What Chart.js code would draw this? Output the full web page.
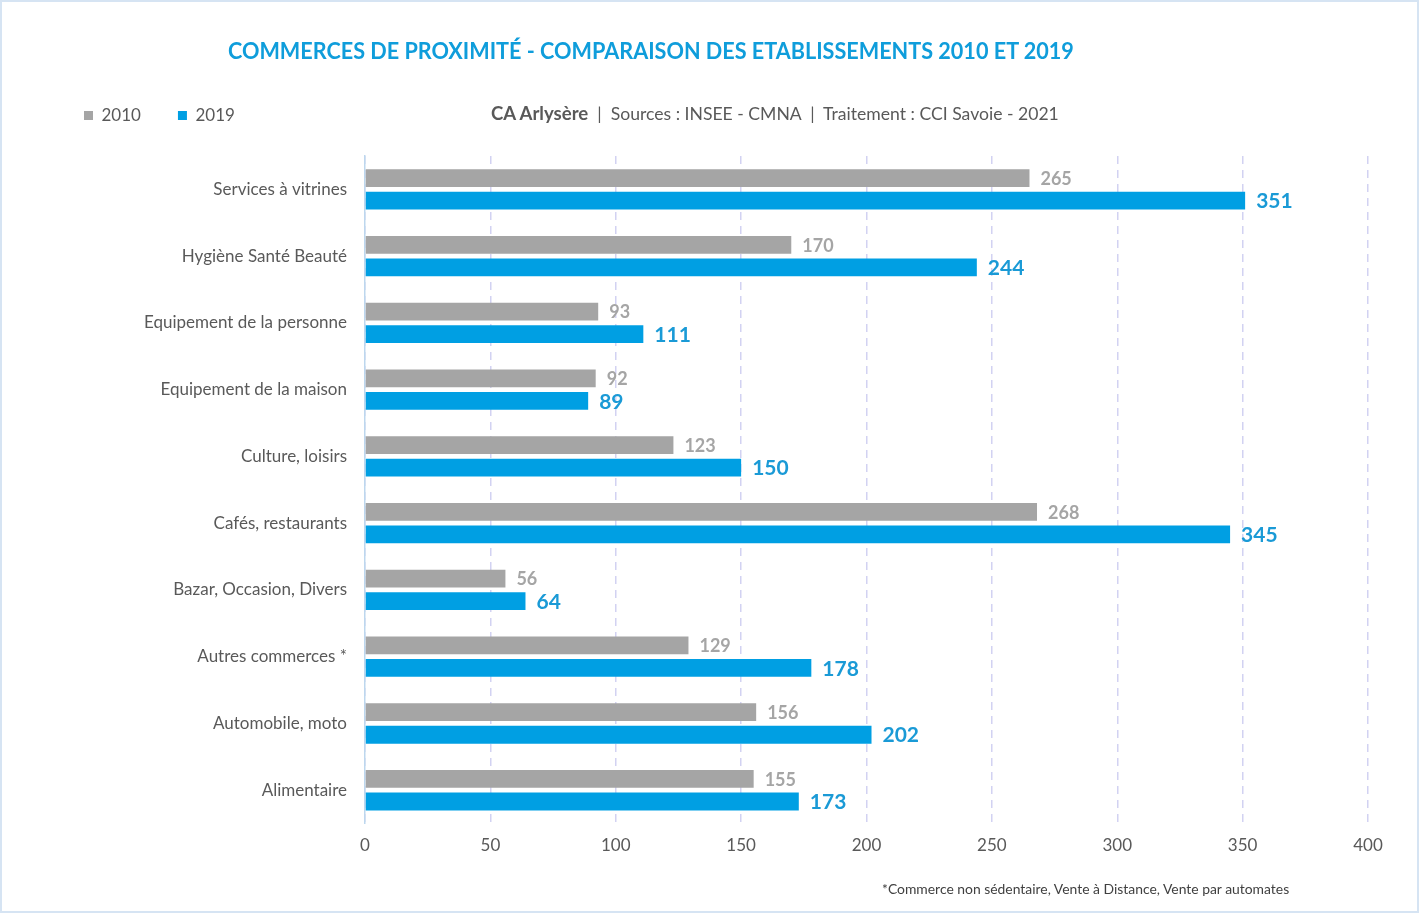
<!DOCTYPE html>
<html>
<head>
<meta charset="utf-8">
<script src="https://cdn.jsdelivr.net/npm/chart.js@4"></script>
<style>
  body { margin: 0; background: #fff; font-family: Lato, sans-serif; }
  #wrap { position: relative; width: 1419px; height: 913px; overflow: hidden; }
  #wrap canvas { position: absolute; left: 0; top: 0; }
  #frame { position: absolute; left: 0; top: 0; width: 1419px; height: 913px; box-sizing: border-box;
           border: 2px solid #d6e4f3; pointer-events: none; }
  .txt { position: absolute; white-space: nowrap; color: #595959; }
  #title { left: 228px; top: 36px; font-size: 23px; font-weight: bold; color: #0f9ddb;
           transform: scaleX(0.94); transform-origin: left center; }
  #sub { left: 491px; top: 102px; font-size: 17.6px; }
  #sub b { font-size: 18.6px; }
  #note { left: 882px; top: 880px; font-size: 13.9px; color: #404040; }
</style>
</head>
<body>
<div id="wrap">
  <canvas id="chart" width="1419" height="913"></canvas>
  <div class="txt" id="title">COMMERCES DE PROXIMITÉ - COMPARAISON DES ETABLISSEMENTS 2010 ET 2019</div>
  <div class="txt" id="sub"><b>CA Arlysère</b>&nbsp;&nbsp;|&nbsp;&nbsp;Sources : INSEE - CMNA&nbsp;&nbsp;|&nbsp;&nbsp;Traitement : CCI Savoie - 2021</div>
  <div class="txt" id="note">*Commerce non sédentaire, Vente à Distance, Vente par automates</div>
  <div id="frame"></div>
</div>
<script>
const categories = [
  "Services à vitrines",
  "Hygiène Santé Beauté",
  "Equipement de la personne",
  "Equipement de la maison",
  "Culture, loisirs",
  "Cafés, restaurants",
  "Bazar, Occasion, Divers",
  "Autres commerces *",
  "Automobile, moto",
  "Alimentaire",
];
const values2010 = [265, 170, 93, 92, 123, 268, 56, 129, 156, 155];
const values2019 = [351, 244, 111, 89, 150, 345, 64, 178, 202, 173];
const xTicks = [0, 50, 100, 150, 200, 250, 300, 350, 400];

const grey = "#a5a5a5";
const blue = "#009fe3";

// value labels at the end of each bar
const barLabels = {
  id: "barLabels",
  afterDatasetsDraw(chart) {
    const ctx = chart.ctx;
    chart.data.datasets.forEach((ds, i) => {
      const meta = chart.getDatasetMeta(i);
      ctx.save();
      ctx.font = ds.labelFont;
      ctx.fillStyle = ds.labelColor;
      ctx.textAlign = "left";
      ctx.textBaseline = "middle";
      meta.data.forEach((bar, j) => {
        ctx.fillText(ds.data[j], bar.x + 11, bar.y + 1);
      });
      ctx.restore();
    });
  },
};

// push the plot area down below the legend line
const legendSpace = {
  id: "legendSpace",
  beforeInit(chart) {
    const fit = chart.legend.fit;
    chart.legend.fit = function () {
      fit.bind(chart.legend)();
      this.height += 22;
    };
  },
};

new Chart(document.getElementById("chart"), {
  type: "bar",
  data: {
    labels: categories,
    datasets: [
      {
        label: "2010",
        data: values2010,
        backgroundColor: grey,
        categoryPercentage: 0.675,
        barPercentage: 0.79,
        labelFont: "bold 18px Lato",
        labelColor: grey,
      },
      {
        label: "2019",
        data: values2019,
        backgroundColor: blue,
        categoryPercentage: 0.675,
        barPercentage: 0.79,
        labelFont: "bold 21px Lato",
        labelColor: "#1a9ad6",
      },
    ],
  },
  options: {
    indexAxis: "y",
    responsive: false,
    animation: false,
    layout: { padding: { left: 47, right: 51, top: 70, bottom: 45 } },
    plugins: {
      title: { display: false },
      tooltip: { enabled: false },
      legend: {
        position: "top",
        align: "start",
        labels: {
          boxWidth: 9,
          boxHeight: 9,
          padding: 37,
          color: "#595959",
          font: { family: "Lato", size: 17 },
        },
      },
    },
    scales: {
      x: {
        min: 0,
        max: 400,
        afterBuildTicks(scale) {
          scale.ticks = xTicks.map((v) => ({ value: v }));
        },
        grid: { color: "#d2d2f2", lineWidth: 1.5, drawTicks: false },
        border: { display: false, dash: [8, 6] },
        ticks: { color: "#595959", padding: 12, font: { family: "Lato", size: 17 } },
      },
      y: {
        afterFit(scale) {
          scale.width = 318;
        },
        grid: { display: false },
        border: { display: true, color: "#bdd7ee", width: 1.5 },
        ticks: { color: "#595959", padding: 10, font: { family: "Lato", size: 17 } },
      },
    },
  },
  plugins: [barLabels, legendSpace],
});
</script>
</body>
</html>
